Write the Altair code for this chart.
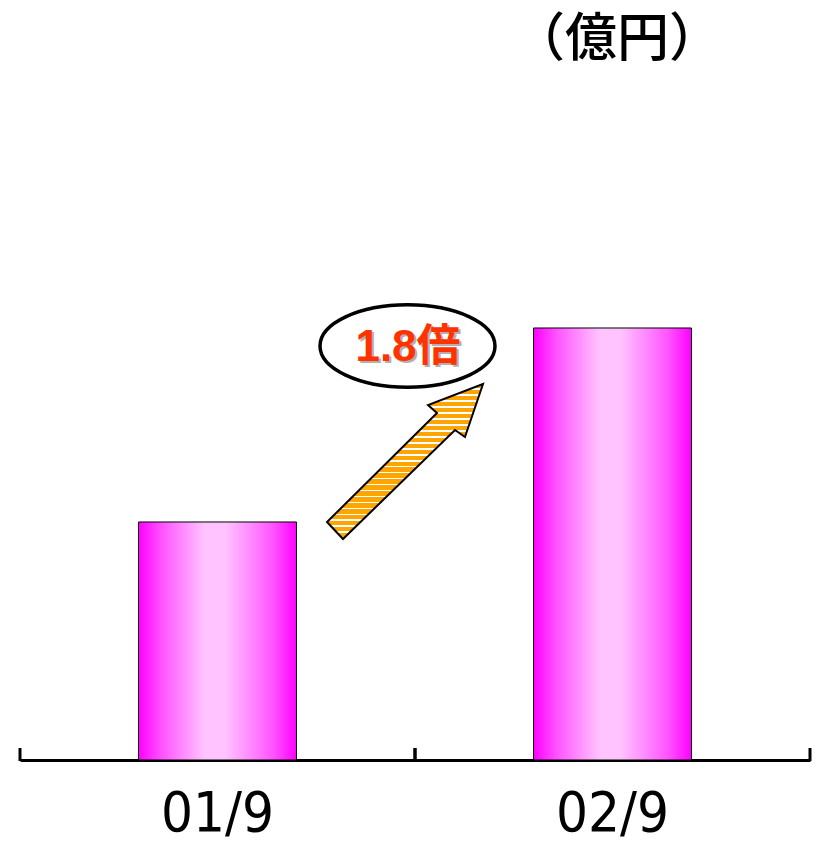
import altair as alt
import pandas as pd

# ---- data ----
periods = ["01/9", "02/9"]
values = [100.0, 181.5]
unit_label = "（億円）"
ratio_label = "1.8倍"

df = pd.DataFrame({"period": periods, "value": values})
unit_df = pd.DataFrame({"t": [unit_label]})
ratio_df = pd.DataFrame({"t": [ratio_label]})

W, H = 790, 750

bar_grad = alt.Gradient(
    gradient="linear", x1=0, x2=1, y1=0, y2=0,
    stops=[
        alt.GradientStop(color="#FF00FF", offset=0),
        alt.GradientStop(color="#FF55FF", offset=0.15),
        alt.GradientStop(color="#FFC4FF", offset=0.42),
        alt.GradientStop(color="#FFC4FF", offset=0.55),
        alt.GradientStop(color="#FF55FF", offset=0.85),
        alt.GradientStop(color="#FF00FF", offset=1),
    ],
)

# striped arrow fill (horizontal white stripes on orange)
n_stripes = 26
stripe_stops = []
for i in range(n_stripes):
    a = i / n_stripes
    b = (i + 0.72) / n_stripes
    c = (i + 1) / n_stripes
    stripe_stops += [
        alt.GradientStop(color="#FFA500", offset=a),
        alt.GradientStop(color="#FFA500", offset=b),
        alt.GradientStop(color="#FFFFFF", offset=b),
        alt.GradientStop(color="#FFFFFF", offset=c),
    ]
arrow_grad = alt.Gradient(gradient="linear", x1=0, x2=0, y1=0, y2=1, stops=stripe_stops)

x_enc = alt.X(
    "period:N",
    sort=periods,
    scale=alt.Scale(paddingInner=0, paddingOuter=0),
    axis=alt.Axis(
        title=None, ticks=False, domainColor="black", domainWidth=3,
        labelAngle=0, labelFont="Liberation Sans Narrow, DejaVu Sans Condensed, sans-serif",
        labelFontSize=56, labelColor="black", labelPadding=26, grid=False,
    ),
)
y_enc = alt.Y("value:Q", scale=alt.Scale(domain=[0, 315.1]), axis=None)

bars = alt.Chart(df).mark_bar(
    fill=bar_grad, stroke="black", strokeWidth=1,
    width=alt.RelativeBandSize(0.4),
).encode(x=x_enc, y=y_enc)

ticks_left = alt.Chart(df).mark_rule(color="black", strokeWidth=3).encode(
    x=alt.X("period:N", sort=periods, bandPosition=0),
    y=alt.value(738), y2=alt.value(751),
)
ticks_right = alt.Chart(df).mark_rule(color="black", strokeWidth=3).encode(
    x=alt.X("period:N", sort=periods, bandPosition=1),
    y=alt.value(738), y2=alt.value(751),
)

unit = alt.Chart(unit_df).mark_text(
    font="Noto Sans CJK JP", fontSize=52, fontWeight=500, color="black",
    align="center", baseline="middle",
).encode(text="t:N", x=alt.value(597), y=alt.value(30))

ellipse_path = "M -1 0 A 1 0.47 0 1 0 1 0 A 1 0.47 0 1 0 -1 0 Z"
ellipse = alt.Chart(ratio_df).mark_point(
    shape=ellipse_path, size=175 * 175, filled=True, fill="white",
    stroke="black", strokeWidth=3.5, opacity=1,
).encode(x=alt.value(387.5), y=alt.value(336))

ratio_shadow = alt.Chart(ratio_df).mark_text(
    font="Liberation Sans, Noto Sans CJK JP", fontSize=44, fontWeight="bold",
    color="#B0B0B0", align="center", baseline="middle", dx=2, dy=2,
).encode(text="t:N", x=alt.value(388), y=alt.value(338))
ratio_text = alt.Chart(ratio_df).mark_text(
    font="Liberation Sans, Noto Sans CJK JP", fontSize=44, fontWeight="bold",
    color="#FF3300", align="center", baseline="middle",
).encode(text="t:N", x=alt.value(388), y=alt.value(338))

arrow_path = ("M -1 0.776 L -0.795 0.994 L 0.641 -0.404 L 0.769 -0.314 "
              "L 1 -0.994 L 0.295 -0.724 L 0.41 -0.622 Z")
arrow = alt.Chart(ratio_df).mark_point(
    shape=arrow_path, size=156 * 156, filled=True, fill=arrow_grad,
    stroke="black", strokeWidth=2, opacity=1,
).encode(x=alt.value(385), y=alt.value(451.5))

chart = alt.layer(
    bars, ticks_left, ticks_right, arrow, ellipse, ratio_shadow, ratio_text, unit
).properties(
    width=W, height=H,
    autosize=alt.AutoSizeParams(type="none"),
    padding={"left": 12, "top": 2, "right": 5, "bottom": 85},
).configure_view(stroke=None)

chart.save("out.html", embed_options={"renderer": "svg", "actions": False})
